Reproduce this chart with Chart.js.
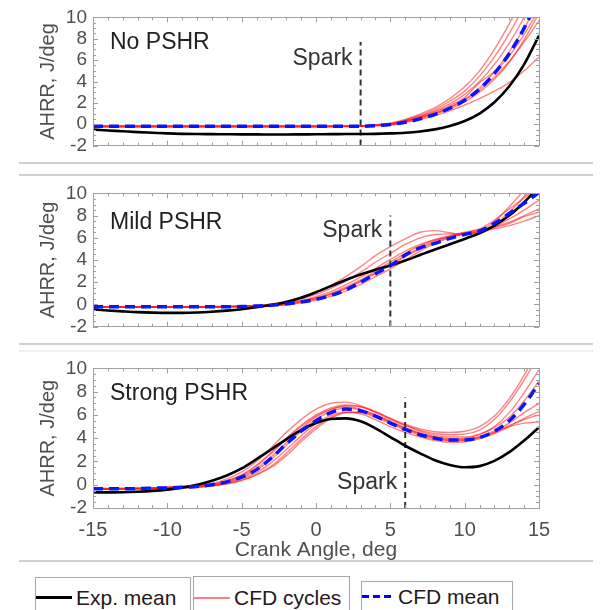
<!DOCTYPE html>
<html>
<head>
<meta charset="utf-8">
<script src="https://cdn.jsdelivr.net/npm/chart.js@4.4.1/dist/chart.umd.min.js"></script>
<style>
  html, body { margin: 0; padding: 0; background: #fff; }
  body { width: 603px; height: 610px; position: relative; overflow: hidden; font-family: "Liberation Sans", Arial, sans-serif; }
  canvas { position: absolute; left: 0; }
  .rule { position: absolute; left: 19px; width: 574px; height: 2px; background: #cfcfcf; }
  .key { position: absolute; border: 1px solid #a8a8a8; border-bottom: none; display: flex; align-items: center; font-size: 21px; color: #241818; box-sizing: border-box; }
  .swatch { display: inline-block; margin-right: 4px; }
</style>
</head>
<body>
<canvas id="noPshr" width="603" height="163" style="top:0px"></canvas>
<canvas id="mildPshr" width="603" height="168" style="top:176px"></canvas>
<canvas id="strongPshr" width="603" height="210" style="top:351px"></canvas>

<div class="rule" style="top:162px"></div>
<div class="rule" style="top:174px"></div>
<div class="rule" style="top:343px"></div>
<div class="rule" style="top:350px; background:#efefef"></div>
<div class="rule" style="top:560px"></div>

<div class="key" style="left:35px; top:577px; width:156px; height:40px">
  <span class="swatch" style="width:36px; height:3px; background:#000"></span><span>Exp. mean</span>
</div>
<div class="key" style="left:193px; top:576px; width:157px; height:42px">
  <span class="swatch" style="width:36px; height:2px; background:#ff7c7c"></span><span>CFD cycles</span>
</div>
<div class="key" style="left:361px; top:581px; width:152px; height:30px">
  <span class="swatch" style="width:32px; height:3px; background:repeating-linear-gradient(90deg, #0000ff 0 7px, transparent 7px 11px)"></span><span>CFD mean</span>
</div>

<script>
// crank angle grid, deg
const crank = [-15, -14, -13, -12, -11, -10, -9, -8, -7, -6, -5, -4, -3, -2, -1, 0,
  1, 2, 3, 4, 5, 6, 7, 8, 9, 10, 11, 12, 13, 14, 15];

// ---- No PSHR ----
const expNo = [-0.5, -0.58, -0.66, -0.74, -0.8, -0.86, -0.9, -0.92, -0.93, -0.94, -0.95, -0.95, -0.96, -0.96, -0.95, -0.94,
  -0.93, -0.92, -0.91, -0.9, -0.86, -0.8, -0.68, -0.48, -0.17, 0.3, 1.0, 2.05, 3.55, 5.6, 8.3];
const meanNo = [-0.2, -0.2, -0.2, -0.2, -0.2, -0.2, -0.2, -0.2, -0.2, -0.2, -0.2, -0.2, -0.2, -0.2, -0.2, -0.2,
  -0.2, -0.2, -0.2, -0.14, -0.02, 0.18, 0.5, 0.92, 1.5, 2.25, 3.3, 4.75, 6.6, 9.0, 11.8];
const cyclesNo = [
  [-0.17, -0.17, -0.17, -0.17, -0.17, -0.17, -0.17, -0.17, -0.17, -0.17, -0.17, -0.17, -0.17, -0.17, -0.17, -0.17,
    -0.17, -0.17, -0.17, -0.15, -0.1, 0.15, 0.45, 0.8, 1.25, 1.8, 2.4, 3.1, 3.9, 5.0, 6.3],
  [-0.22, -0.22, -0.22, -0.22, -0.22, -0.22, -0.22, -0.22, -0.22, -0.22, -0.22, -0.22, -0.22, -0.22, -0.22, -0.22,
    -0.22, -0.21, -0.2, -0.1, 0.0, 0.3, 0.65, 1.05, 1.6, 2.3, 3.2, 4.4, 5.9, 7.7, 9.7],
  [-0.19, -0.19, -0.19, -0.19, -0.19, -0.19, -0.19, -0.19, -0.19, -0.19, -0.19, -0.19, -0.19, -0.19, -0.19, -0.19,
    -0.19, -0.19, -0.18, -0.1, 0.0, 0.25, 0.6, 1.0, 1.55, 2.3, 3.4, 4.9, 6.8, 9.0, 11.5],
  [-0.24, -0.24, -0.24, -0.24, -0.24, -0.24, -0.24, -0.24, -0.24, -0.24, -0.24, -0.24, -0.24, -0.24, -0.24, -0.24,
    -0.23, -0.22, -0.2, -0.08, 0.05, 0.35, 0.75, 1.25, 1.9, 2.8, 4.0, 5.6, 7.6, 10.0, 12.5],
  [-0.2, -0.2, -0.2, -0.2, -0.2, -0.2, -0.2, -0.2, -0.2, -0.2, -0.2, -0.2, -0.2, -0.2, -0.2, -0.2,
    -0.2, -0.19, -0.17, -0.05, 0.05, 0.4, 0.85, 1.4, 2.15, 3.1, 4.5, 6.3, 8.5, 11.0, 13.5],
  [-0.21, -0.21, -0.21, -0.21, -0.21, -0.21, -0.21, -0.21, -0.21, -0.21, -0.21, -0.21, -0.21, -0.21, -0.21, -0.21,
    -0.21, -0.2, -0.19, -0.1, 0.0, 0.3, 0.7, 1.15, 1.75, 2.5, 3.9, 4.9, 6.4, 8.4, 10.8],
  [-0.18, -0.18, -0.18, -0.18, -0.18, -0.18, -0.18, -0.18, -0.18, -0.18, -0.18, -0.18, -0.18, -0.18, -0.18, -0.18,
    -0.18, -0.18, -0.17, -0.12, -0.05, 0.2, 0.55, 0.95, 1.45, 2.1, 3.0, 4.2, 5.8, 7.9, 10.4],
  [-0.23, -0.23, -0.23, -0.23, -0.23, -0.23, -0.23, -0.23, -0.23, -0.23, -0.23, -0.23, -0.23, -0.23, -0.23, -0.23,
    -0.22, -0.2, -0.16, -0.05, 0.1, 0.45, 0.95, 1.55, 2.4, 3.5, 5.0, 7.0, 9.4, 12.0, 14.5]
];

// ---- Mild PSHR ----
const expMild = [-0.45, -0.55, -0.63, -0.7, -0.74, -0.76, -0.76, -0.73, -0.66, -0.56, -0.43, -0.26, -0.05, 0.22, 0.6, 1.1,
  1.65, 2.2, 2.7, 3.12, 3.5, 3.95, 4.45, 4.95, 5.42, 5.9, 6.4, 7.1, 8.0, 9.2, 10.6];
const meanMild = [-0.22, -0.22, -0.22, -0.22, -0.22, -0.22, -0.22, -0.22, -0.22, -0.21, -0.2, -0.15, -0.08, 0.05, 0.22, 0.45,
  0.8, 1.3, 2.0, 2.75, 3.47, 4.45, 5.1, 5.5, 5.95, 6.3, 6.6, 7.3, 8.2, 9.1, 10.1];
const cyclesMild = [
  [-0.2, -0.2, -0.2, -0.2, -0.2, -0.2, -0.2, -0.2, -0.19, -0.17, -0.14, -0.1, 0.05, 0.3, 0.65, 1.1,
    1.7, 2.5, 3.4, 4.4, 5.2, 5.9, 6.5, 6.65, 6.45, 6.3, 6.5, 7.2, 8.3, 9.7, 11.2],
  [-0.22, -0.22, -0.22, -0.22, -0.22, -0.22, -0.22, -0.22, -0.21, -0.19, -0.15, -0.1, 0.0, 0.2, 0.5, 0.9,
    1.45, 2.1, 2.9, 3.8, 4.6, 5.4, 6.0, 6.3, 6.35, 6.35, 6.55, 7.5, 8.8, 10.3, 11.8],
  [-0.24, -0.24, -0.24, -0.24, -0.24, -0.24, -0.24, -0.24, -0.23, -0.22, -0.2, -0.16, -0.1, 0.05, 0.3, 0.6,
    1.0, 1.55, 2.2, 3.0, 3.8, 4.6, 5.3, 5.8, 6.1, 6.3, 6.5, 7.0, 7.7, 8.5, 9.4],
  [-0.26, -0.26, -0.26, -0.26, -0.26, -0.26, -0.26, -0.26, -0.26, -0.25, -0.23, -0.2, -0.15, -0.05, 0.15, 0.4,
    0.75, 1.2, 1.8, 2.5, 3.2, 4.0, 4.8, 5.5, 6.0, 6.4, 6.6, 6.8, 7.1, 7.5, 8.0],
  [-0.21, -0.21, -0.21, -0.21, -0.21, -0.21, -0.21, -0.21, -0.21, -0.2, -0.18, -0.15, -0.1, 0.0, 0.2, 0.5,
    0.9, 1.4, 2.05, 2.8, 3.6, 4.4, 5.1, 5.7, 6.15, 6.5, 6.75, 7.0, 7.4, 8.0, 8.6],
  [-0.23, -0.23, -0.23, -0.23, -0.23, -0.23, -0.23, -0.23, -0.22, -0.2, -0.17, -0.12, -0.05, 0.1, 0.35, 0.7,
    1.15, 1.75, 2.45, 3.25, 4.05, 4.8, 5.4, 5.85, 6.2, 6.45, 6.8, 7.6, 8.6, 9.6, 10.6],
  [-0.25, -0.25, -0.25, -0.25, -0.25, -0.25, -0.25, -0.25, -0.24, -0.22, -0.19, -0.15, -0.1, 0.05, 0.28, 0.55,
    0.95, 1.45, 2.1, 2.85, 3.55, 4.3, 5.0, 5.6, 6.05, 6.35, 6.6, 6.9, 7.3, 7.9, 8.3]
];

// ---- Strong PSHR ----
const expStrong = [-0.65, -0.66, -0.64, -0.6, -0.53, -0.42, -0.25, 0.0, 0.35, 0.8, 1.4, 2.2, 3.05, 3.9, 4.7, 5.3,
  5.65, 5.7, 5.45, 4.85, 4.1, 3.35, 2.7, 2.1, 1.7, 1.5, 1.6, 2.05, 2.8, 3.8, 4.95];
const meanStrong = [-0.35, -0.35, -0.35, -0.33, -0.3, -0.27, -0.22, -0.15, 0.0, 0.25, 0.65, 1.3, 2.3, 3.5, 4.6, 5.5,
  6.2, 6.5, 6.35, 5.9, 5.3, 4.75, 4.3, 4.0, 3.85, 3.85, 4.05, 4.6, 5.5, 6.9, 8.7];
const cyclesStrong = [
  [-0.33, -0.33, -0.32, -0.3, -0.27, -0.22, -0.15, -0.05, 0.1, 0.5, 1.1, 2.0, 3.2, 4.5, 5.6, 6.5,
    7.0, 7.1, 6.8, 6.2, 5.6, 5.1, 4.7, 4.4, 4.3, 4.35, 4.7, 5.6, 7.1, 9.0, 11.2],
  [-0.37, -0.37, -0.36, -0.35, -0.33, -0.3, -0.26, -0.2, -0.05, 0.15, 0.5, 1.05, 1.9, 3.0, 4.2, 5.25,
    5.95, 6.25, 6.1, 5.6, 5.0, 4.5, 4.1, 3.8, 3.65, 3.7, 3.95, 4.4, 5.0, 5.7, 6.3],
  [-0.34, -0.34, -0.33, -0.31, -0.28, -0.24, -0.18, -0.1, 0.0, 0.3, 0.8, 1.6, 2.7, 3.9, 5.0, 5.9,
    6.5, 6.7, 6.5, 6.0, 5.4, 4.85, 4.4, 4.1, 3.95, 4.0, 4.3, 5.0, 6.2, 7.9, 9.9],
  [-0.38, -0.38, -0.37, -0.36, -0.34, -0.31, -0.27, -0.21, -0.1, 0.1, 0.4, 0.9, 1.6, 2.7, 3.9, 5.0,
    5.8, 6.2, 6.2, 5.8, 5.25, 4.7, 4.25, 3.95, 3.8, 3.85, 4.1, 4.6, 5.3, 6.2, 7.0],
  [-0.32, -0.32, -0.31, -0.29, -0.26, -0.21, -0.14, -0.05, 0.05, 0.35, 0.85, 1.7, 2.8, 4.0, 5.1, 6.0,
    6.6, 6.85, 6.7, 6.25, 5.7, 5.2, 4.8, 4.55, 4.5, 4.6, 5.0, 5.9, 7.4, 9.4, 11.8],
  [-0.36, -0.36, -0.35, -0.33, -0.3, -0.26, -0.2, -0.13, -0.05, 0.2, 0.6, 1.25, 2.2, 3.4, 4.6, 5.6,
    6.3, 6.6, 6.45, 5.95, 5.35, 4.8, 4.35, 4.0, 3.8, 3.8, 4.05, 4.5, 5.1, 5.6, 6.0],
  [-0.35, -0.35, -0.34, -0.32, -0.29, -0.25, -0.19, -0.11, 0.0, 0.25, 0.7, 1.4, 2.4, 3.6, 4.8, 5.8,
    6.45, 6.8, 6.7, 6.3, 5.7, 5.1, 4.6, 4.25, 4.1, 4.1, 4.35, 4.9, 5.8, 7.2, 8.9],
  [-0.39, -0.39, -0.38, -0.37, -0.35, -0.32, -0.28, -0.22, -0.1, 0.05, 0.35, 0.85, 1.5, 2.5, 3.7, 4.8,
    5.7, 6.2, 6.25, 5.95, 5.45, 4.9, 4.45, 4.1, 3.9, 3.9, 4.1, 4.5, 5.0, 5.3, 5.4]
];

// spark timing per case: crank angle, top of marker, label height (J/deg)
const sparkAngle = [3, 5, 6];
const sparkTop = [7.7, 8.0, 7.5];
const sparkLabelAt = [6.1, 6.6, 0.2];
const caseNames = ["No PSHR", "Mild PSHR", "Strong PSHR"];

Chart.defaults.font.family = "'Liberation Sans', Arial, sans-serif";
Chart.defaults.animation = false;

const toPoints = (values) => values.map((v, i) => ({ x: crank[i], y: v }));

// box, inward ticks, titles and annotations
const framePlugin = {
  id: "frame",
  afterDatasetsDraw(chart, args, opts) {
    const { ctx, chartArea: a, scales } = chart;
    const x = scales.x;
    const y = scales.y;
    ctx.save();
    ctx.strokeStyle = "#a0a0a0";
    ctx.lineWidth = 1;
    const seg = (x1, y1, x2, y2) => {
      ctx.beginPath();
      ctx.moveTo(x1, y1);
      ctx.lineTo(x2, y2);
      ctx.stroke();
    };
    for (let v = x.min; v <= x.max; v += 1) {
      const px = Math.round(x.getPixelForValue(v)) + 0.5;
      const len = v % 5 === 0 ? 5 : 3;
      seg(px, a.bottom, px, a.bottom - len);
      seg(px, a.top, px, a.top + len);
    }
    for (let v = y.min; v <= y.max; v += 0.5) {
      const py = Math.round(y.getPixelForValue(v)) + 0.5;
      const len = v % 2 === 0 ? 5 : 3;
      seg(a.left, py, a.left + len, py);
      seg(a.right, py, a.right - len, py);
    }
    ctx.strokeRect(Math.round(a.left) + 0.5, Math.round(a.top) + 0.5,
      Math.round(a.right - a.left), Math.round(a.bottom - a.top));

    // y axis title
    ctx.fillStyle = "#505050";
    ctx.font = "20px 'Liberation Sans', Arial, sans-serif";
    ctx.textAlign = "center";
    ctx.textBaseline = "middle";
    ctx.save();
    ctx.translate(48, (a.top + a.bottom) / 2);
    ctx.rotate(-Math.PI / 2);
    ctx.fillText("AHRR, J/deg", 0, 0);
    ctx.restore();

    if (opts.xTitle) {
      ctx.font = "21px 'Liberation Sans', Arial, sans-serif";
      ctx.fillText(opts.xTitle, (a.left + a.right) / 2, a.bottom + 42);
    }

    // case name and spark label
    ctx.fillStyle = "#222";
    ctx.font = "23px 'Liberation Sans', Arial, sans-serif";
    ctx.textAlign = "left";
    ctx.fillText(opts.name, a.left + 17, a.top + opts.nameDy);
    ctx.fillStyle = "#333";
    ctx.textAlign = "right";
    ctx.fillText("Spark", x.getPixelForValue(opts.spark) - 8, y.getPixelForValue(opts.sparkLabel));
    ctx.restore();
  }
};

function makePanel(id, idx, exp, mean, cycles, padding, bottomAxis) {
  const datasets = [
    {
      data: toPoints(mean),
      borderColor: "#0a14ff",
      borderWidth: 3.5,
      borderDash: [10, 6],
    },
    {
      data: toPoints(exp),
      borderColor: "#000",
      borderWidth: 2.6,
    },
    {
      data: [{ x: sparkAngle[idx], y: -2 }, { x: sparkAngle[idx], y: sparkTop[idx] }],
      borderColor: "#333",
      borderWidth: 2,
      borderDash: [6, 4],
      tension: 0,
      cubicInterpolationMode: "default",
    },
  ];
  cycles.forEach((c) => {
    datasets.push({
      data: toPoints(c),
      borderColor: "rgba(255, 30, 30, 0.55)",
      borderWidth: 1.4,
    });
  });

  return new Chart(document.getElementById(id), {
    type: "line",
    data: { datasets },
    options: {
      responsive: false,
      devicePixelRatio: 1,
      layout: { padding },
      clip: 0,
      elements: {
        point: { radius: 0 },
        line: { cubicInterpolationMode: "monotone", fill: false },
      },
      plugins: {
        legend: { display: false },
        tooltip: { enabled: false },
        frame: {
          name: caseNames[idx],
          nameDy: idx === 1 ? 29 : 25,
          spark: sparkAngle[idx],
          sparkLabel: sparkLabelAt[idx],
          xTitle: bottomAxis ? "Crank Angle, deg" : null,
        },
      },
      scales: {
        x: {
          type: "linear",
          min: -15,
          max: 15,
          display: bottomAxis,
          grid: { display: false, drawTicks: false },
          border: { display: false },
          ticks: {
            stepSize: 5,
            padding: 10,
            color: "#505050",
            font: { size: 20 },
            maxRotation: 0,
          },
          afterFit(scale) {
            scale.height = bottomAxis ? 53 : 0;
          },
        },
        y: {
          min: -2,
          max: 10,
          grid: { display: false, drawTicks: false },
          border: { display: false },
          ticks: {
            stepSize: 2,
            autoSkip: false,
            padding: 6,
            color: "#505050",
            font: { size: 19 },
          },
          afterFit(scale) {
            scale.width = 93;
          },
        },
      },
    },
    plugins: [framePlugin],
  });
}

makePanel("noPshr", 0, expNo, meanNo, cyclesNo, { top: 15, bottom: 8, left: 0, right: 64 }, false);
makePanel("mildPshr", 1, expMild, meanMild, cyclesMild, { top: 17, bottom: 11, left: 0, right: 64 }, false);
makePanel("strongPshr", 2, expStrong, meanStrong, cyclesStrong, { top: 17, bottom: 0, left: 0, right: 64 }, true);
</script>
</body>
</html>
